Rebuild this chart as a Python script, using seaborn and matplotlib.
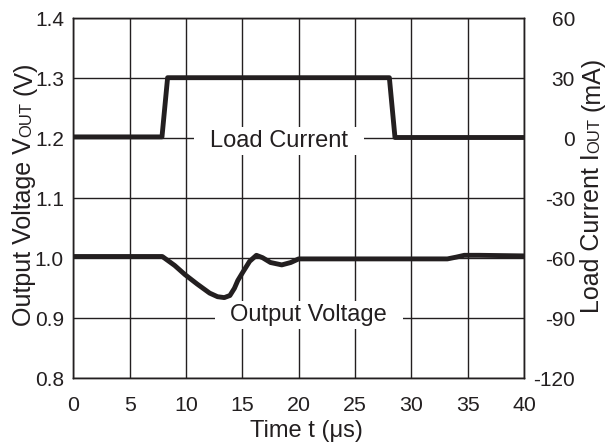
import matplotlib
matplotlib.use("Agg")
import matplotlib.pyplot as plt
import seaborn as sns
from matplotlib.path import Path

# Load-transient response: output voltage (left axis) and load current (right axis)
time_v = [0, 7.9, 9.0, 9.9, 11.0, 12.1, 12.8, 13.4, 13.9, 14.3, 14.6, 15.05,
          15.65, 16.25, 16.8, 17.5, 18.5, 19.3, 20.0, 25.0, 33.2, 34.0, 34.7,
          36.0, 40.0]
volt = [1.003, 1.003, 0.988, 0.973, 0.957, 0.942, 0.936, 0.9345, 0.938, 0.950,
        0.963, 0.977, 0.995, 1.005, 1.001, 0.993, 0.989, 0.993, 0.999, 0.999,
        0.999, 1.002, 1.005, 1.005, 1.004]

time_i = [0, 7.87, 8.37, 28.05, 28.55, 40.0]
curr = [0.7, 0.7, 30.3, 30.3, 0.4, 0.4]

x_ticks = [0, 5, 10, 15, 20, 25, 30, 35, 40]
v_ticks = [0.8, 0.9, 1.0, 1.1, 1.2, 1.3, 1.4]
v_labels = ["0.8", "0.9", "1.0", "1.1", "1.2", "1.3", "1.4"]
i_ticks = [-120, -90, -60, -30, 0, 30, 60]
i_labels = ["-120", "-90", "-60", "-30", "0", "30", "60"]

INK = "#231f20"
W, H = 605, 448

sns.set_style("ticks")
plt.rcParams["font.family"] = ["Liberation Sans", "DejaVu Sans"]
plt.rcParams["text.color"] = INK
plt.rcParams["xtick.color"] = INK
plt.rcParams["ytick.color"] = INK


class PadBox:
    """Rectangular text box with separate horizontal / vertical padding."""

    def __init__(self, padx, pady):
        self.padx = padx
        self.pady = pady

    def __call__(self, x0, y0, width, height, mutation_size):
        px = self.padx * mutation_size
        py = self.pady * mutation_size
        x0, y0 = x0 - px, y0 - py
        x1, y1 = x0 + width + 2 * px, y0 + height + 2 * py
        return Path([(x0, y0), (x1, y0), (x1, y1), (x0, y1), (x0, y0)],
                    closed=True)


fig = plt.figure(figsize=(W / 100, H / 100), dpi=100)
ax = fig.add_axes([73.3 / W, 1 - 378.3 / H, (524 - 73.3) / W, 360 / H])
ax2 = ax.twinx()

sns.lineplot(x=time_v, y=volt, ax=ax, color=INK, lw=3.5, sort=False,
             estimator=None, zorder=3)
sns.lineplot(x=time_i, y=curr, ax=ax2, color=INK, lw=3.5, sort=False,
             estimator=None, zorder=3)

ax.set_xlim(0, 40)
ax.set_ylim(0.8, 1.4)
ax2.set_ylim(-120, 60)
ax.set_xticks(x_ticks, [str(t) for t in x_ticks])
ax.set_yticks(v_ticks, v_labels)
ax2.set_yticks(i_ticks, i_labels, ha="right")
ax.set_xlabel("")
ax.set_ylabel("")
ax2.set_ylabel("")

ax.grid(True, color=INK, lw=1.0)
ax.set_axisbelow(True)
for a in (ax, ax2):
    for s in a.spines.values():
        s.set_color(INK)
        s.set_linewidth(1.0)
ax.tick_params(axis="x", length=0, labelsize=15.4, pad=12.5)
ax.tick_params(axis="y", length=0, labelsize=15, pad=6.7)
ax2.tick_params(axis="y", length=0, labelsize=15, pad=36.7)

box = dict(boxstyle=PadBox(0.66, 0.13), fc="white", ec="none")
ax.text(18.25, 1.195, "Load Current", fontsize=17, ha="center", va="center",
        bbox=box, zorder=2)
ax.text(20.9, 0.905, "Output Voltage", fontsize=17, ha="center", va="center",
        bbox=box, zorder=2)

fig.text(306 / W, 11 / H, "Time t (\u03bcs)", fontsize=17, ha="center",
         va="baseline")


def rotated_label(x_px, yc_px, pieces):
    """Vertical axis title built from pieces of different sizes."""
    renderer = fig.canvas.get_renderer()
    widths = []
    for text, size, gap in pieces:
        t = fig.text(0, 0, text, fontsize=size)
        widths.append(t.get_window_extent(renderer).width + gap)
        t.remove()
    y = yc_px - sum(widths) / 2
    for (text, size, gap), w in zip(pieces, widths):
        fig.text(x_px / W, (y + gap) / H, text, fontsize=size, rotation=90,
                 rotation_mode="anchor", ha="left", va="baseline")
        y += w


sp = 18 * 100 / 72 * 0.278
rotated_label(31.5, H - 194, [("Output Voltage V", 18, 0), ("OUT", 12, 0),
                              ("(V)", 18, sp)])
rotated_label(599, H - 185, [("Load Current I", 18, 0), ("OUT", 12, 0),
                             ("(mA)", 18, sp)])

fig.savefig("out.png", dpi=100)
